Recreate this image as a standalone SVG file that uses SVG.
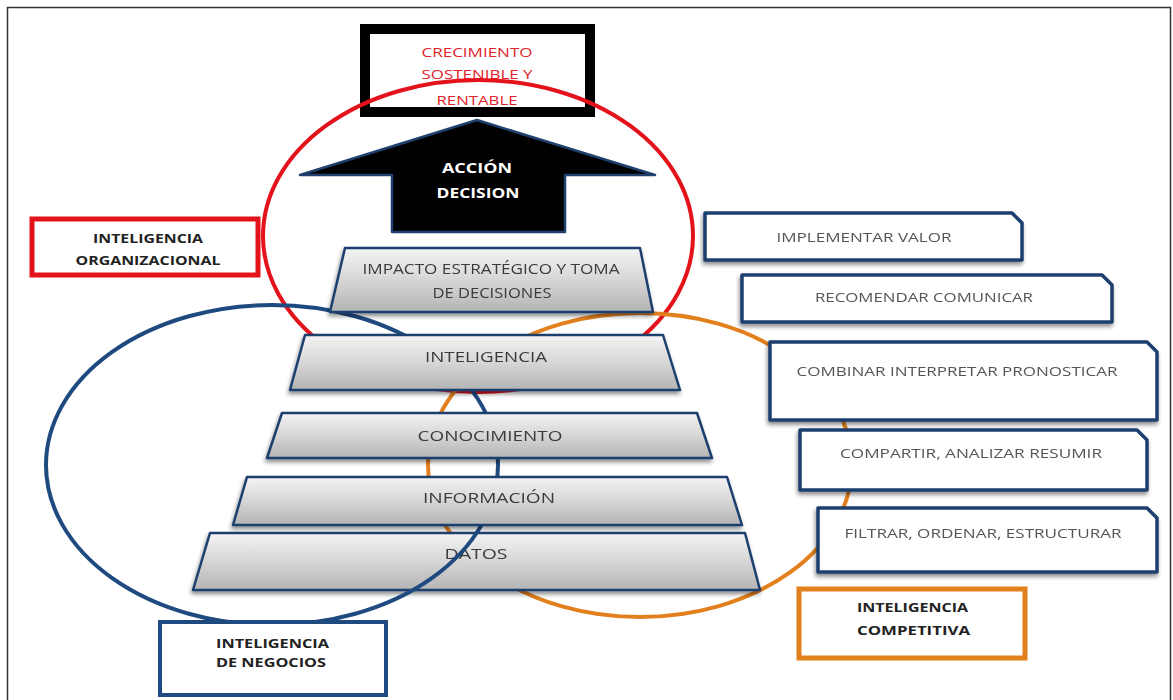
<svg xmlns="http://www.w3.org/2000/svg" width="1173" height="700" viewBox="0 0 1173 700">
<defs>
<linearGradient id="barGrad" x1="0" y1="0" x2="0" y2="1">
<stop offset="0" stop-color="#f4f4f4"/>
<stop offset="0.5" stop-color="#d6d6d6"/>
<stop offset="1" stop-color="#b4b4b4"/>
</linearGradient>
<filter id="shadow" x="-10%" y="-20%" width="120%" height="150%">
<feGaussianBlur in="SourceAlpha" stdDeviation="2"/>
<feOffset dx="-1" dy="3" result="o"/>
<feComponentTransfer><feFuncA type="linear" slope="0.45"/></feComponentTransfer>
<feMerge><feMergeNode/><feMergeNode in="SourceGraphic"/></feMerge>
</filter>
</defs>
<style>
.bar{fill:url(#barGrad);stroke:#1f3f6e;stroke-width:2.5;stroke-linejoin:round}
.bartxt{font-family:"Open Sans","Liberation Sans",sans-serif;font-size:14px;fill:#3a3a3a;text-anchor:middle}
.rbox{fill:#ffffff;stroke:#1f3f6e;stroke-width:3.5;stroke-linejoin:round}
.rtxt{font-family:"Open Sans","Liberation Sans",sans-serif;font-size:13px;fill:#555555;text-anchor:middle}
.lbl{font-family:"Open Sans","Liberation Sans",sans-serif;font-size:13px;font-weight:bold;fill:#222222}
.ell{fill:none;stroke-width:4}
</style>
<rect x="0" y="0" width="1173" height="700" fill="#ffffff"/>
<rect x="7.5" y="7.5" width="1163" height="720" fill="none" stroke="#333333" stroke-width="1.5"/>

<g id="crecimiento">
<text x="477" y="57" text-anchor="middle" font-family="Open Sans, Liberation Sans, sans-serif" font-size="13" fill="#e0222a" textLength="111" lengthAdjust="spacingAndGlyphs">CRECIMIENTO</text>
<text x="477" y="79" text-anchor="middle" font-family="Open Sans, Liberation Sans, sans-serif" font-size="13" fill="#e0222a" textLength="111" lengthAdjust="spacingAndGlyphs">SOSTENIBLE Y</text>
<text x="477" y="105" text-anchor="middle" font-family="Open Sans, Liberation Sans, sans-serif" font-size="13" fill="#e0222a" textLength="81" lengthAdjust="spacingAndGlyphs">RENTABLE</text>
<rect x="365" y="29" width="225" height="83" fill="none" stroke="#000000" stroke-width="10"/>
</g>

<g id="connectors">
<ellipse id="ellipse-organizacional" class="ell" cx="478" cy="236" rx="215" ry="156" stroke="#e3121b" stroke-width="3.5"/>
<ellipse id="ellipse-competitiva" class="ell" cx="640" cy="465" rx="212" ry="152" stroke="#e2801e"/>
</g>

<g id="accion">
<path d="M477,120 L655,175 L565,175 L565,232 L392,232 L392,175 L300,175 Z" fill="#000000" stroke="#1f3f6e" stroke-width="2.5" stroke-linejoin="round"/>
<text x="477" y="173" text-anchor="middle" font-family="Open Sans, Liberation Sans, sans-serif" font-size="15" font-weight="bold" fill="#ffffff" textLength="70" lengthAdjust="spacingAndGlyphs">ACCIÓN</text>
<text x="478" y="198" text-anchor="middle" font-family="Open Sans, Liberation Sans, sans-serif" font-size="15" font-weight="bold" fill="#ffffff" textLength="83" lengthAdjust="spacingAndGlyphs">DECISION</text>
</g>

<g id="org-label">
<rect x="32" y="219" width="226" height="56" fill="#ffffff" stroke="#e3121b" stroke-width="5"/>
<text x="148" y="243" text-anchor="middle" class="lbl" textLength="110" lengthAdjust="spacingAndGlyphs">INTELIGENCIA</text>
<text x="148" y="265" text-anchor="middle" class="lbl" textLength="145" lengthAdjust="spacingAndGlyphs">ORGANIZACIONAL</text>
</g>

<g id="datos" filter="url(#shadow)">
<polygon class="bar" points="210,533 745,533 760,590 193,590"/>
<text class="bartxt" x="476" y="559" textLength="63" lengthAdjust="spacingAndGlyphs">DATOS</text>
</g>

<g id="connectors-2">
<ellipse id="ellipse-negocios" class="ell" cx="272" cy="465" rx="226" ry="160" stroke="#1f4a80" stroke-width="5"/>
</g>

<g id="impacto" filter="url(#shadow)">
<polygon class="bar" points="345,248 640,248 653,312 330,312"/>
<text class="bartxt" x="491" y="274" textLength="257" lengthAdjust="spacingAndGlyphs">IMPACTO ESTRATÉGICO Y TOMA</text>
<text class="bartxt" x="492" y="298" textLength="119" lengthAdjust="spacingAndGlyphs">DE DECISIONES</text>
</g>
<g id="inteligencia" filter="url(#shadow)">
<polygon class="bar" points="305,335 663,335 680,390 290,390"/>
<text class="bartxt" x="486" y="362" textLength="122" lengthAdjust="spacingAndGlyphs">INTELIGENCIA</text>
</g>
<g id="conocimiento" filter="url(#shadow)">
<polygon class="bar" points="282,413 697,413 712,458 267,458"/>
<text class="bartxt" x="490" y="441" textLength="145" lengthAdjust="spacingAndGlyphs">CONOCIMIENTO</text>
</g>
<g id="informacion" filter="url(#shadow)">
<polygon class="bar" points="247,477 727,477 742,525 233,525"/>
<text class="bartxt" x="489" y="503" textLength="132" lengthAdjust="spacingAndGlyphs">INFORMACIÓN</text>
</g>

<g id="implementar" filter="url(#shadow)">
<path class="rbox" d="M705,213 H1012 L1022,223 V260 H705 Z"/>
<text class="rtxt" x="864" y="242" textLength="175" lengthAdjust="spacingAndGlyphs">IMPLEMENTAR VALOR</text>
</g>
<g id="recomendar" filter="url(#shadow)">
<path class="rbox" d="M742,275 H1102 L1112,285 V322 H742 Z"/>
<text class="rtxt" x="924" y="302" textLength="218" lengthAdjust="spacingAndGlyphs">RECOMENDAR COMUNICAR</text>
</g>
<g id="combinar" filter="url(#shadow)">
<path class="rbox" d="M770,342 H1147 L1157,352 V420 H770 Z"/>
<text class="rtxt" x="957" y="376" textLength="321" lengthAdjust="spacingAndGlyphs">COMBINAR INTERPRETAR PRONOSTICAR</text>
</g>
<g id="compartir" filter="url(#shadow)">
<path class="rbox" d="M800,430 H1137 L1147,440 V490 H800 Z"/>
<text class="rtxt" x="971" y="458" textLength="262" lengthAdjust="spacingAndGlyphs">COMPARTIR, ANALIZAR RESUMIR</text>
</g>
<g id="filtrar" filter="url(#shadow)">
<path class="rbox" d="M818,508 H1147 L1157,518 V572 H818 Z"/>
<text class="rtxt" x="983" y="538" textLength="277" lengthAdjust="spacingAndGlyphs">FILTRAR, ORDENAR, ESTRUCTURAR</text>
</g>

<g id="competitiva-label">
<rect x="799" y="589" width="226" height="69" fill="#ffffff" stroke="#e2801e" stroke-width="5"/>
<text x="857" y="612" class="lbl" textLength="111" lengthAdjust="spacingAndGlyphs">INTELIGENCIA</text>
<text x="857" y="635" class="lbl" textLength="113" lengthAdjust="spacingAndGlyphs">COMPETITIVA</text>
</g>

<g id="negocios-label">
<rect x="160" y="622" width="226" height="73" fill="#ffffff" stroke="#1f4a80" stroke-width="4"/>
<text x="216" y="648" class="lbl" textLength="113" lengthAdjust="spacingAndGlyphs">INTELIGENCIA</text>
<text x="216" y="667" class="lbl" textLength="110" lengthAdjust="spacingAndGlyphs">DE NEGOCIOS</text>
</g>
</svg>
